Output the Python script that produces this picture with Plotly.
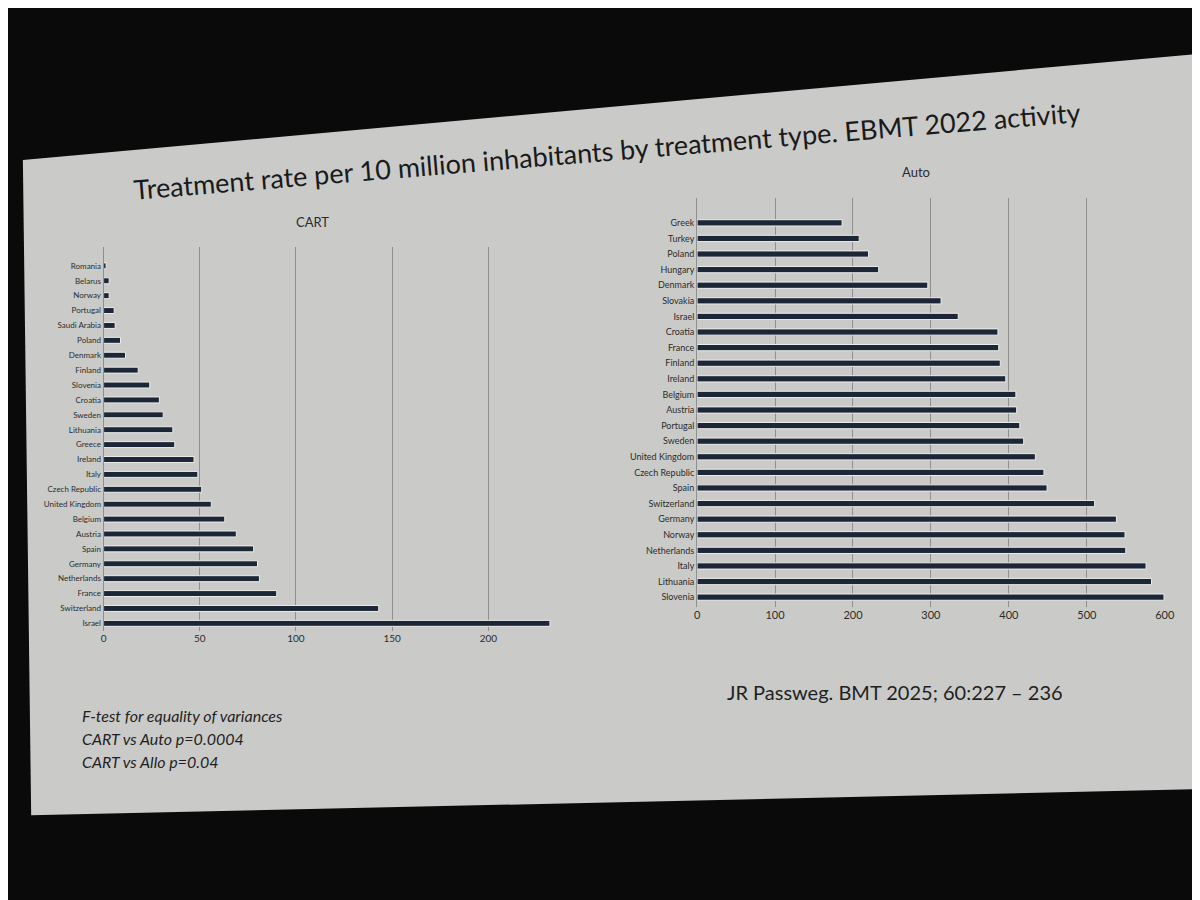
import plotly.graph_objects as go

# CART, top to bottom as on the slide
cart_countries = [
    'Romania', 'Belarus', 'Norway', 'Portugal', 'Saudi Arabia', 'Poland', 'Denmark',
    'Finland', 'Slovenia', 'Croatia', 'Sweden', 'Lithuania', 'Greece', 'Ireland',
    'Italy', 'Czech Republic', 'United Kingdom', 'Belgium', 'Austria', 'Spain',
    'Germany', 'Netherlands', 'France', 'Switzerland', 'Israel',
]
cart_rates = [
    1.3, 2.9, 2.9, 5.5, 6, 8.8, 11.4,
    18, 24, 29, 31, 36, 37, 47,
    49, 51, 56, 63, 69, 78,
    80, 81, 90, 143, 232,
]

# Auto, top to bottom
auto_countries = [
    'Greek', 'Turkey', 'Poland', 'Hungary', 'Denmark', 'Slovakia', 'Israel',
    'Croatia', 'France', 'Finland', 'Ireland', 'Belgium', 'Austria', 'Portugal',
    'Sweden', 'United Kingdom', 'Czech Republic', 'Spain', 'Switzerland', 'Germany',
    'Norway', 'Netherlands', 'Italy', 'Lithuania', 'Slovenia',
]
auto_rates = [
    186, 208, 220, 233, 296, 313, 335,
    386, 387, 389, 396, 409, 410, 414,
    419, 434, 445, 449, 510, 538,
    549, 550, 576, 583, 599,
]

cart_ticks = [0, 50, 100, 150, 200]
auto_ticks = [0, 100, 200, 300, 400, 500, 600]

BAR = '#1c2637'
GRID = '#8e8f8e'
TEXT = '#2b2b2b'
SLIDE = '#cacbc9'
FONT = 'Lato'

fig = go.Figure()

fig.add_trace(go.Bar(
    x=cart_rates, y=cart_countries, orientation='h',
    marker=dict(color=BAR, line=dict(color='#ecedeb', width=1)),
    xaxis='x', yaxis='y', name='CART',
))
fig.add_trace(go.Bar(
    x=auto_rates, y=auto_countries, orientation='h',
    marker=dict(color=BAR, line=dict(color='#ecedeb', width=1)),
    xaxis='x2', yaxis='y2', name='Auto',
))

axis_common = dict(
    showgrid=True, gridcolor=GRID, gridwidth=1,
    zeroline=False, showline=False, ticks='',
)
cat_common = dict(
    showgrid=False, zeroline=False, showline=True,
    linecolor=GRID, linewidth=1, ticks='',
)

fig.update_layout(
    width=1200, height=900,
    margin=dict(l=0, r=0, t=0, b=0),
    paper_bgcolor='#0a0a0a',
    plot_bgcolor='rgba(0,0,0,0)',
    showlegend=False,
    bargap=0.6,
    font=dict(family=FONT, color=TEXT),
    xaxis=dict(domain=[0.078, 0.467], range=[0, 240], tickvals=cart_ticks, anchor='y',
               tickfont=dict(family=FONT, size=10, color=TEXT), **axis_common),
    yaxis=dict(domain=[0.308, 0.735], range=[24.5, -1.3], anchor='x',
               tickfont=dict(family=FONT, size=8, color=TEXT), **cat_common),
    xaxis2=dict(domain=[0.578, 0.972], range=[0, 600], tickvals=auto_ticks, anchor='y2',
                tickfont=dict(family=FONT, size=11, color=TEXT), **axis_common),
    yaxis2=dict(domain=[0.335, 0.789], range=[24.6, -1.6], anchor='x2',
                tickfont=dict(family=FONT, size=9, color=TEXT), **cat_common),
    shapes=[dict(
        type='path', xref='paper', yref='paper', layer='below',
        path='M 0.010,0.831 L 1.0,0.949 L 1.0,0.132 L 0.017,0.103 Z',
        fillcolor=SLIDE, line=dict(width=0),
    )],
)

notes = [
    dict(x=0.502, y=0.842, textangle=-4.7,
         text='Treatment rate per 10 million inhabitants by treatment type. EBMT 2022 activity',
         font=dict(size=27, color='#1a1a1a')),
    dict(x=0.254, y=0.762, text='CART', font=dict(size=13)),
    dict(x=0.7625, y=0.818, text='Auto', font=dict(size=13)),
    dict(x=0.745, y=0.24, text='JR Passweg. BMT 2025; 60:227 \u2013 236',
         font=dict(size=20, color='#1f1f1f')),
]
for n in notes:
    fig.add_annotation(xref='paper', yref='paper', showarrow=False,
                       xanchor='center', yanchor='middle', **n)

stats = [
    'F-test for equality of variances',
    'CART vs Auto p=0.0004',
    'CART vs Allo p=0.04',
]
for i, line in enumerate(stats):
    fig.add_annotation(
        xref='paper', yref='paper', x=0.058, y=0.2144 - i * 0.0256,
        xanchor='left', yanchor='middle', showarrow=False,
        text=f'<i>{line}</i>', font=dict(size=16, color='#1f1f1f'),
    )

fig.write_html('out.html')
